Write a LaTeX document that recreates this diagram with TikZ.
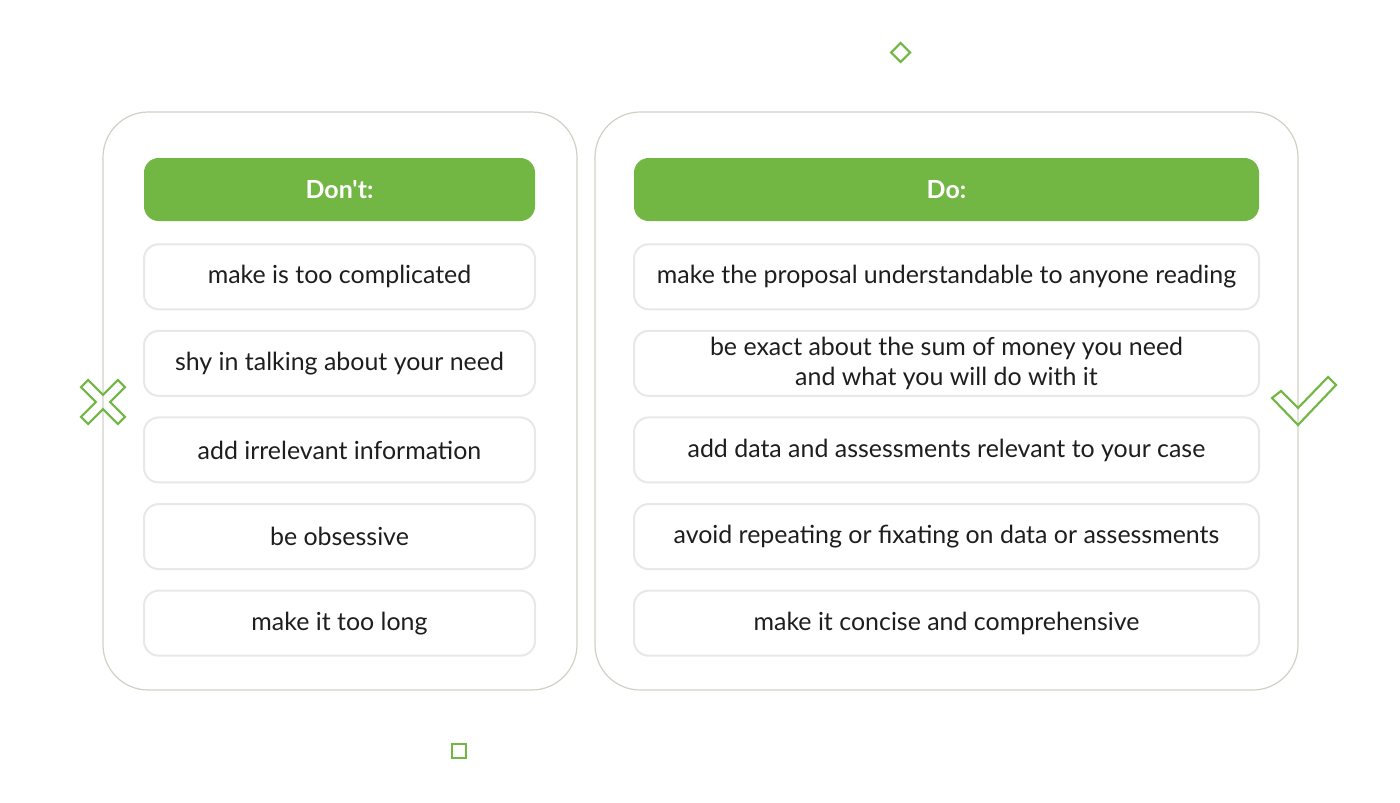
\documentclass[tikz,border=0pt]{standalone}
\usepackage{fontspec}
\setmainfont{Lato}[Ligatures=TeXOff]
\usetikzlibrary{positioning}
\definecolor{leaf}{HTML}{72B744}
\definecolor{frame}{HTML}{CDD3C4}
\definecolor{ink}{HTML}{1E1E1E}

\begin{document}
\begin{tikzpicture}[x=0.75pt,y=-0.75pt,node distance=14.7pt,
  head node/.style={rectangle,rounded corners=11pt,fill=leaf,text=white,inner sep=0pt,
    minimum height=47.25pt,font=\bfseries\fontsize{18.7}{22.5}\selectfont},
  item node/.style={rectangle,rounded corners=11pt,draw=black!9,line width=1.5pt,fill=white,
    text=ink,inner sep=0pt,minimum height=48.75pt,align=center,font=\fontsize{18.7}{22.5}\selectfont},
  panel/.style={draw=frame,line width=0.9pt,rounded corners=34pt},
  sign line/.style={draw=leaf,line width=1.6pt,line join=miter}]

 \useasboundingbox[fill=white] (0,0) rectangle (1400,803);

 % the two panels
 \draw[panel] (103,112) rectangle (577,690);
 \draw[panel] (595,112) rectangle (1298,690);

 % left column
 \begin{scope}[every node/.append style={minimum width=293.25pt}]
 \node[head node] (h1) at (339.5,189.5) {Don't:};
 \node[item node] (l1) [below=16.5pt of h1] {make is too complicated};
 \node[item node] (l2) [below=of l1] {shy in talking about your need};
 \node[item node] (l3) [below=of l2] {add irrelevant information};
 \node[item node] (l4) [below=of l3] {be obsessive};
 \node[item node] (l5) [below=of l4] {make it too long};
 \end{scope}

 % right column
 \begin{scope}[every node/.append style={minimum width=468.75pt}]
 \node[head node] (h2) at (946.5,189.5) {Do:};
 \node[item node] (r1) [below=16.5pt of h2] {make the proposal understandable to anyone reading};
 \node[item node] (r2) [below=of r1] {be exact about the sum of money you need\\and what you will do with it};
 \node[item node] (r3) [below=of r2] {add data and assessments relevant to your case};
 \node[item node] (r4) [below=of r3] {avoid repeating or fixating on data or assessments};
 \node[item node] (r5) [below=of r4] {make it concise and comprehensive};
 \end{scope}

 % cross and tick
 \begin{scope}[shift={(103,402)},rotate=45]
  \draw[sign line] (5,5) -- (26,5) -- (26,-5) -- (5,-5) -- (5,-26) -- (-5,-26) -- (-5,-5)
    -- (-26,-5) -- (-26,5) -- (-5,5) -- (-5,26) -- (5,26) -- cycle;
 \end{scope}
 \draw[sign line] (1272,398) -- (1281,391) -- (1298,408) -- (1328,377) -- (1336,385)
    -- (1298,425) -- cycle;

 % small decorations
 \draw[sign line] (900.5,43) -- (910,52.5) -- (900.5,62) -- (891,52.5) -- cycle;
 \draw[sign line] (452,744) rectangle (466,758);

\end{tikzpicture}
\end{document}
